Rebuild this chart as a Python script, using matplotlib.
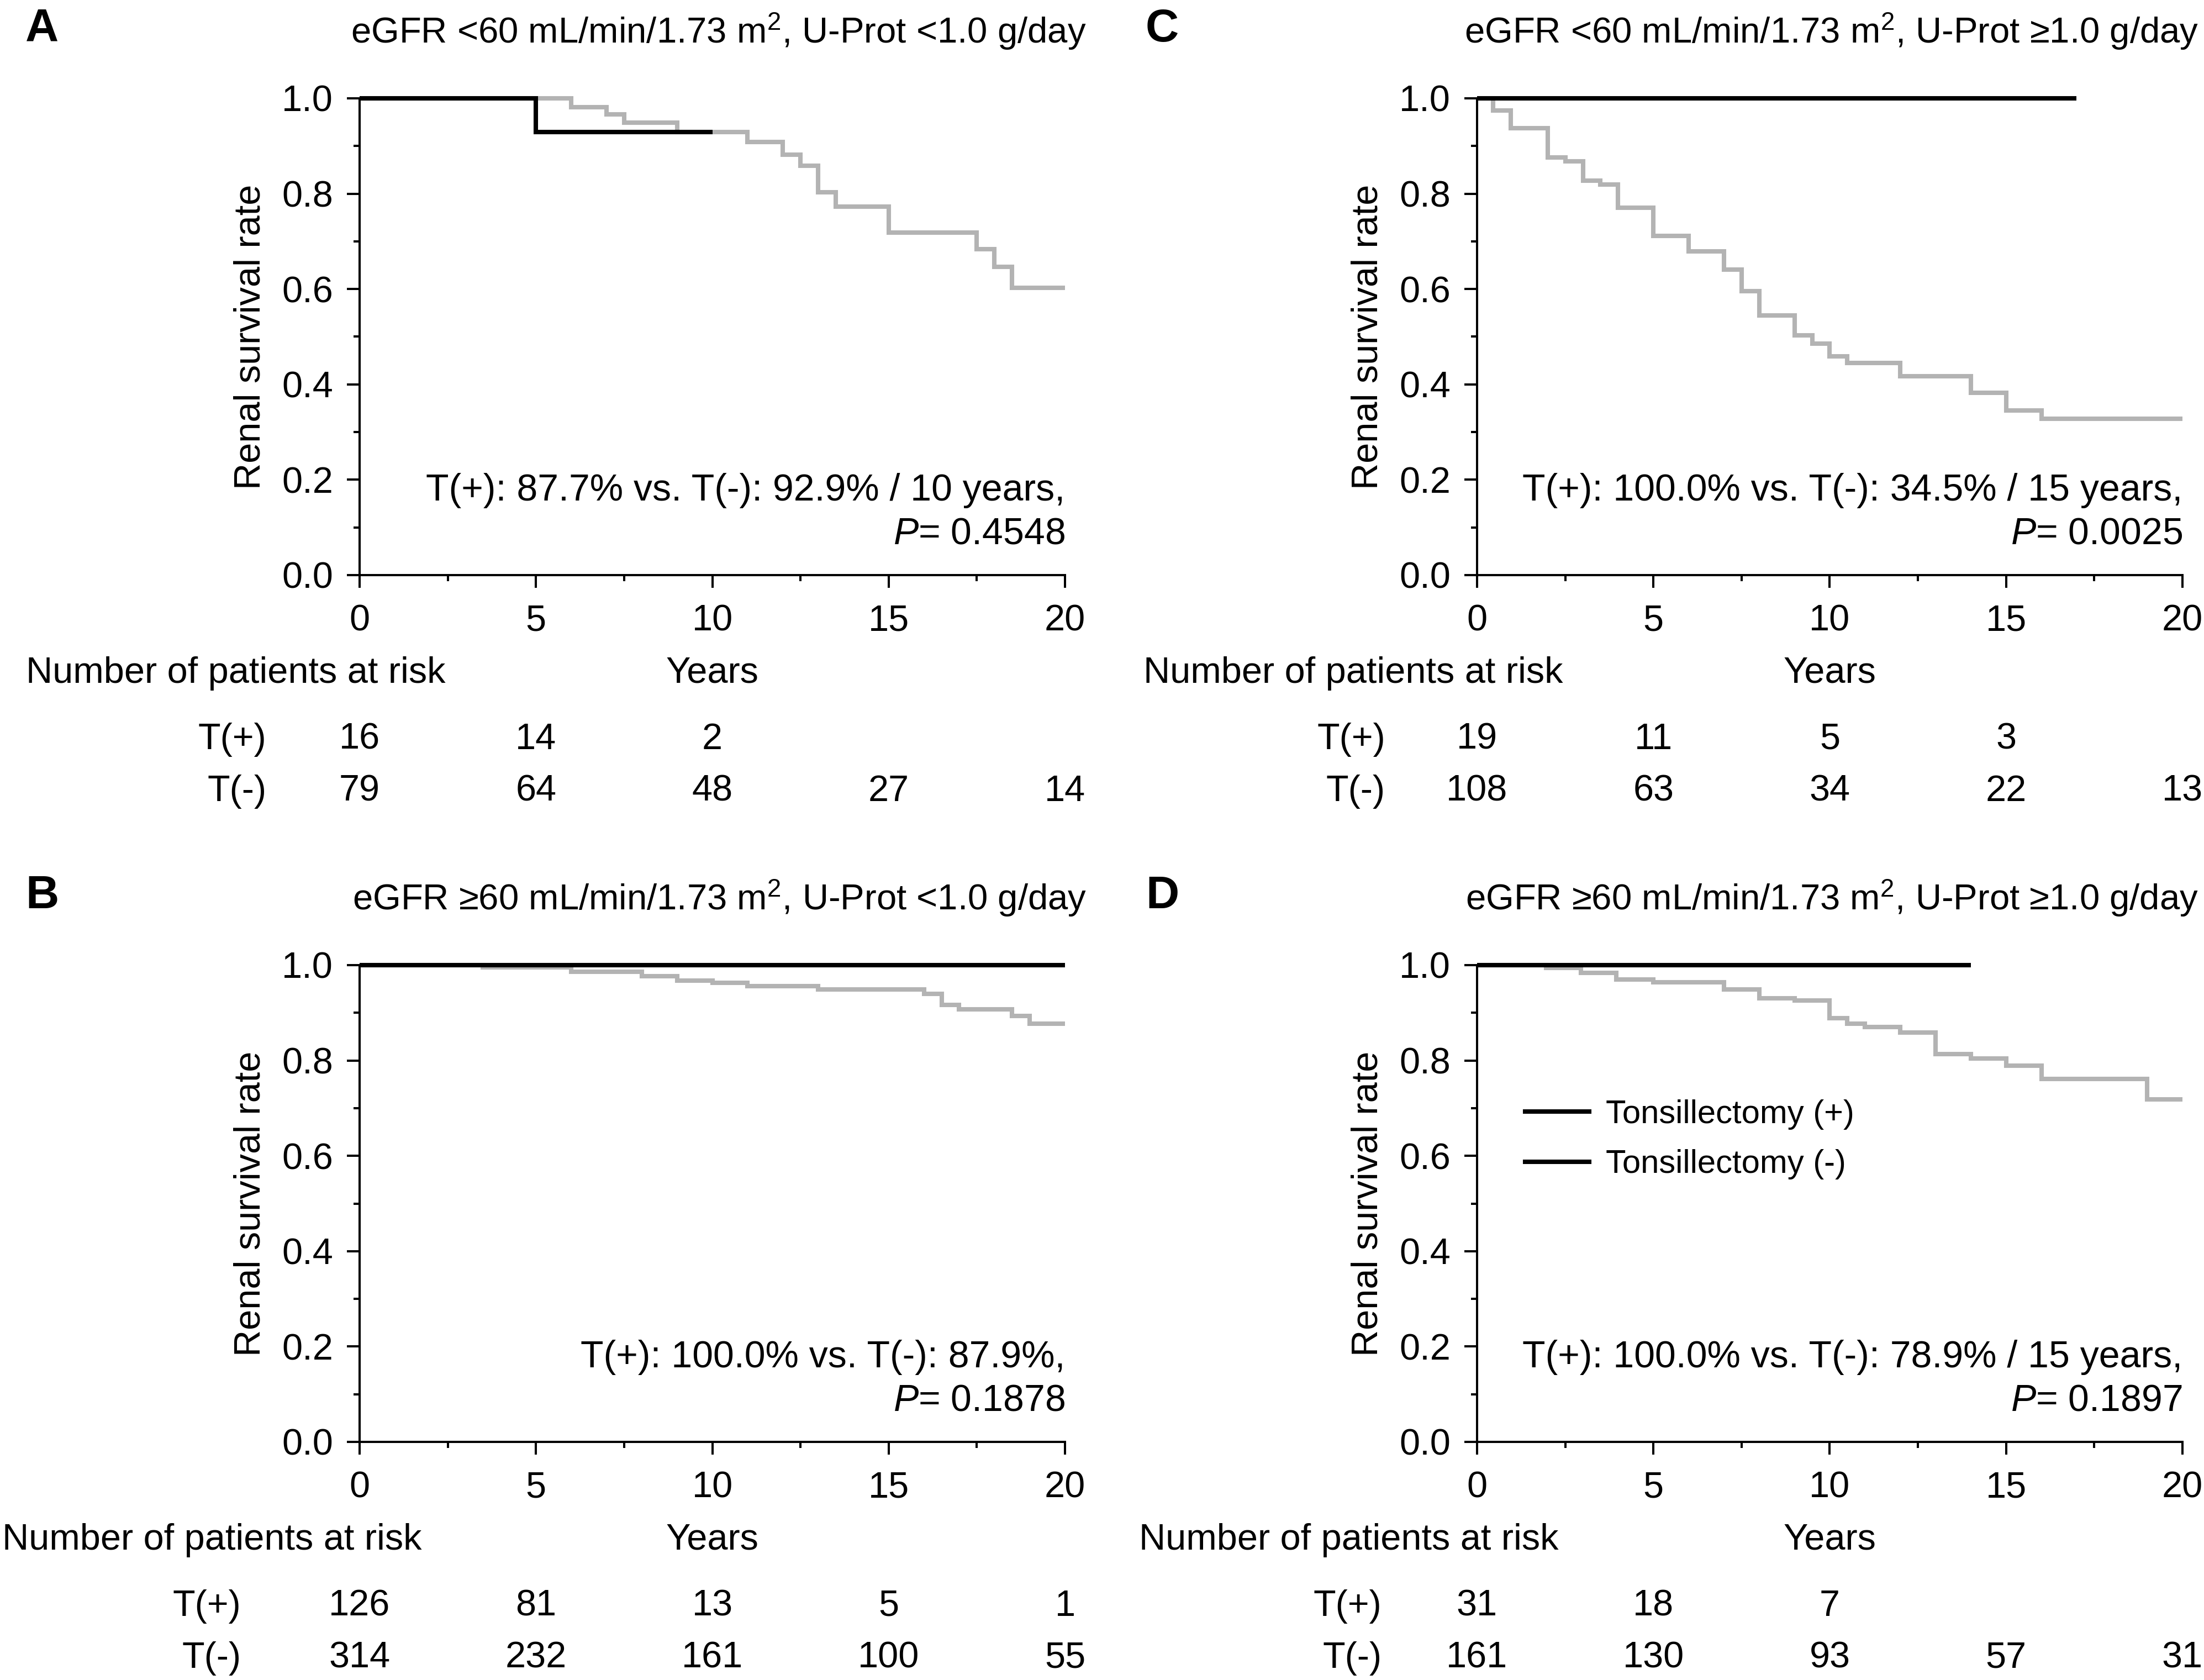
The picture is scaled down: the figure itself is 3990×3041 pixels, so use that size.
import matplotlib
matplotlib.use("Agg")
import matplotlib.pyplot as plt
from matplotlib.lines import Line2D
from matplotlib.ticker import MultipleLocator, FormatStrFormatter

plt.rcParams['font.family'] = ['Liberation Sans', 'DejaVu Sans']
plt.rcParams['mathtext.fontset'] = 'custom'
plt.rcParams['mathtext.rm'] = 'Liberation Sans'
plt.rcParams['mathtext.it'] = 'Liberation Sans:italic'

# ---------------- data ----------------
# Panel A: eGFR <60, U-Prot <1.0
a_neg_t = [0, 6.0, 7.0, 7.5, 9.0, 11.0, 12.0, 12.5, 13.0, 13.5, 15.0, 17.5, 18.0, 18.5, 20.0]
a_neg_s = [1.0, 0.982, 0.966, 0.949, 0.929, 0.908, 0.882, 0.859, 0.803, 0.773, 0.719, 0.684, 0.647, 0.603, 0.603]
a_pos_t = [0, 5.0, 10.0]
a_pos_s = [1.0, 0.929, 0.929]

# Panel B: eGFR >=60, U-Prot <1.0
b_neg_t = [0, 3.5, 6.0, 8.0, 9.0, 10.0, 11.0, 13.0, 16.0, 16.5, 17.0, 18.5, 19.0, 20.0]
b_neg_s = [1.0, 0.995, 0.986, 0.977, 0.968, 0.963, 0.956, 0.949, 0.940, 0.917, 0.907, 0.893, 0.877, 0.877]
b_pos_t = [0, 20.0]
b_pos_s = [1.0, 1.0]

# Panel C: eGFR <60, U-Prot >=1.0
c_neg_t = [0, 0.45, 0.95, 2.0, 2.5, 3.0, 3.5, 4.0, 5.0, 6.0, 7.0, 7.5, 8.0, 9.0,
           9.5, 10.0, 10.5, 12.0, 14.0, 15.0, 16.0, 20.0]
c_neg_s = [1.0, 0.975, 0.938, 0.876, 0.868, 0.827, 0.819, 0.770, 0.712, 0.679, 0.641,
           0.596, 0.545, 0.503, 0.486, 0.459, 0.445, 0.417, 0.382, 0.345, 0.328, 0.328]
c_pos_t = [0, 17.0]
c_pos_s = [1.0, 1.0]

# Panel D: eGFR >=60, U-Prot >=1.0
d_neg_t = [0, 1.95, 2.95, 3.95, 5.0, 7.0, 8.0, 9.0, 10.0, 10.5, 11.0, 12.0, 13.0,
           14.0, 15.0, 16.0, 19.0, 20.0]
d_neg_s = [1.0, 0.994, 0.984, 0.970, 0.964, 0.949, 0.931, 0.926, 0.889, 0.877, 0.870,
           0.859, 0.814, 0.804, 0.789, 0.761, 0.719, 0.719]
d_pos_t = [0, 14.0]
d_pos_s = [1.0, 1.0]

risk_years = [0, 5, 10, 15, 20]
a_risk_pos = [16, 14, 2, None, None]
a_risk_neg = [79, 64, 48, 27, 14]
b_risk_pos = [126, 81, 13, 5, 1]
b_risk_neg = [314, 232, 161, 100, 55]
c_risk_pos = [19, 11, 5, 3, None]
c_risk_neg = [108, 63, 34, 22, 13]
d_risk_pos = [31, 18, 7, None, None]
d_risk_neg = [161, 130, 93, 57, 31]

titles = {
    'A': 'eGFR <60 mL/min/1.73 m$^{2}$, U-Prot <1.0 g/day',
    'B': 'eGFR \u226560 mL/min/1.73 m$^{2}$, U-Prot <1.0 g/day',
    'C': 'eGFR <60 mL/min/1.73 m$^{2}$, U-Prot \u22651.0 g/day',
    'D': 'eGFR \u226560 mL/min/1.73 m$^{2}$, U-Prot \u22651.0 g/day',
}
notes = {
    'A': ('T(+): 87.7% vs. T(-): 92.9% / 10 years,', '0.4548'),
    'B': ('T(+): 100.0% vs. T(-): 87.9%,', '0.1878'),
    'C': ('T(+): 100.0% vs. T(-): 34.5% / 15 years,', '0.0025'),
    'D': ('T(+): 100.0% vs. T(-): 78.9% / 15 years,', '0.1897'),
}
legend_labels = ['Tonsillectomy (+)', 'Tonsillectomy (-)']

# ---------------- layout ----------------
W, H = 3991, 3041
FS = 48
GRAY = '#b3b3b3'
LW = 5.8
SW = 2.9

fig = plt.figure(figsize=(W / 100, H / 100), dpi=100)

panels = {
    'A': dict(box=(651, 178), neg=(a_neg_t, a_neg_s), pos=(a_pos_t, a_pos_s),
              risk=(a_risk_pos, a_risk_neg), num_x=-0.473, tlab_x=-0.132, title_x=1.0305, letter_x=46),
    'B': dict(box=(651, 1747), neg=(b_neg_t, b_neg_s), pos=(b_pos_t, b_pos_s),
              risk=(b_risk_pos, b_risk_neg), num_x=-0.507, tlab_x=-0.168, title_x=1.0305, letter_x=46),
    'C': dict(box=(2674, 178), neg=(c_neg_t, c_neg_s), pos=(c_pos_t, c_pos_s),
              risk=(c_risk_pos, c_risk_neg), num_x=-0.473, tlab_x=-0.130, title_x=1.0227, letter_x=2074),
    'D': dict(box=(2674, 1747), neg=(d_neg_t, d_neg_s), pos=(d_pos_t, d_pos_s),
              risk=(d_risk_pos, d_risk_neg), num_x=-0.479, tlab_x=-0.135, title_x=1.0227, letter_x=2074),
}
AW, AH = 1277, 863

for key, p in panels.items():
    x0, ytop = p['box']
    ax = fig.add_axes([x0 / W, 1 - (ytop + AH) / H, AW / W, AH / H])
    ax.step(p['neg'][0], p['neg'][1], where='post', color=GRAY, lw=LW, clip_on=False,
            solid_joinstyle='miter', solid_capstyle='butt')
    ax.step(p['pos'][0], p['pos'][1], where='post', color='black', lw=LW, clip_on=False,
            solid_joinstyle='miter', solid_capstyle='butt')
    ax.set_xlim(0, 20)
    ax.set_ylim(0, 1.0)
    for s in ['top', 'right']:
        ax.spines[s].set_visible(False)
    for s in ['left', 'bottom']:
        ax.spines[s].set_linewidth(SW)
    ax.xaxis.set_major_locator(MultipleLocator(5))
    ax.xaxis.set_minor_locator(MultipleLocator(2.5))
    ax.yaxis.set_major_locator(MultipleLocator(0.2))
    ax.yaxis.set_minor_locator(MultipleLocator(0.1))
    ax.yaxis.set_major_formatter(FormatStrFormatter('%.1f'))
    ax.tick_params(which='major', direction='out', length=16.5, width=SW, labelsize=FS)
    ax.tick_params(which='minor', direction='out', length=8, width=SW)
    ax.tick_params(axis='y', which='major', pad=18)
    ax.tick_params(axis='x', which='major', pad=21)

    ax.text(-0.155, 0.5, 'Renal survival rate', transform=ax.transAxes, rotation=90,
            ha='center', va='center', fontsize=FS)
    ax.text(p['title_x'], 1.141, titles[key], transform=ax.transAxes, ha='right',
            va='center', fontsize=FS - 1)
    fig.text(p['letter_x'] / W, 1 - (ytop - 125) / H, key, ha='left', va='center',
             fontsize=60, fontweight='bold')

    l1, pv = notes[key]
    ax.text(1.0, 0.177, l1, transform=ax.transAxes, ha='right', va='center', fontsize=FS + 1)
    ax.text(1.0, 0.086, '$\\mathit{P}$= ' + pv, transform=ax.transAxes, ha='right',
            va='center', fontsize=FS + 1)

    # risk table
    tr = ax.get_xaxis_transform()
    ax.text(p['num_x'], -0.206, 'Number of patients at risk', transform=ax.transAxes,
            ha='left', va='center', fontsize=FS)
    ax.text(10, -0.206, 'Years', transform=tr, ha='center', va='center', fontsize=FS)
    ax.text(p['tlab_x'], -0.345, 'T(+)', transform=ax.transAxes, ha='right', va='center', fontsize=FS)
    ax.text(p['tlab_x'], -0.454, 'T(-)', transform=ax.transAxes, ha='right', va='center', fontsize=FS)
    rpos, rneg = p['risk']
    for yr, n in zip(risk_years, rpos):
        if n is not None:
            ax.text(yr, -0.345, str(n), transform=tr, ha='center', va='center', fontsize=FS)
    for yr, n in zip(risk_years, rneg):
        if n is not None:
            ax.text(yr, -0.454, str(n), transform=tr, ha='center', va='center', fontsize=FS)

    if key == 'D':
        handles = [Line2D([], [], color='black', lw=LW), Line2D([], [], color='black', lw=LW)]
        ax.legend(handles, legend_labels, loc='center left', bbox_to_anchor=(0.068, 0.634),
                  frameon=False, fontsize=43, handlelength=1.95, handletextpad=0.5,
                  labelspacing=0.59, borderpad=0, borderaxespad=0)

fig.savefig('out.png', dpi=100)
